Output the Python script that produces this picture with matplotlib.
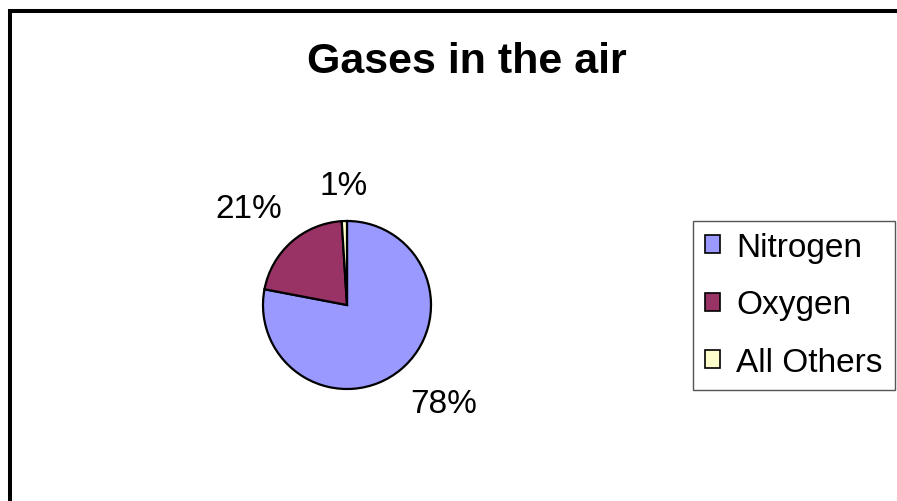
import matplotlib
matplotlib.use('Agg')
import matplotlib.pyplot as plt
from matplotlib.patches import Patch, Rectangle

plt.rcParams['font.family'] = ['Liberation Sans', 'DejaVu Sans']

gases = ['Nitrogen', 'Oxygen', 'All Others']
shares = [78, 21, 1]
colors = ['#9999FF', '#993366', '#FFFFCC']
title = 'Gases in the air'

# where each percent label sits, in pie-radius units
label_xy = [(1.15, -1.17), (-1.17, 1.15), (-0.04, 1.42)]

W, H = 897, 502
fig = plt.figure(figsize=(W/100, H/100), dpi=100)

# black chart frame (left and top edges show)
fig.patches.append(Rectangle((10/W, -0.1), 1.2, 1 - 12/H + 0.1,
                             transform=fig.transFigure, fill=False,
                             edgecolor='black', linewidth=2.9))

fig.text(467/W, 1 - 62/H, title, ha='center', va='center',
         fontsize=31, fontweight='bold')

# pie axes: centre (347, 306), radius 84 px
cx, cy, r = 347, 306, 84
ax = fig.add_axes([(cx - r)/W, 1 - (cy + r)/H, 2*r/W, 2*r/H])
wedges, _ = ax.pie(shares, colors=colors, startangle=90, counterclock=False,
                   wedgeprops=dict(edgecolor='black', linewidth=1.6))
ax.set_xlim(-1, 1)
ax.set_ylim(-1, 1)
ax.set_aspect('equal')
ax.axis('off')
for v, (x, y) in zip(shares, label_xy):
    ax.text(x, y, '%d%%' % v, ha='center', va='center', fontsize=24,
            clip_on=False)

handles = [Patch(facecolor=c, edgecolor='black', linewidth=1.2) for c in colors]
leg = fig.legend(handles, gases, loc='center left',
                 bbox_to_anchor=(693/W, 1 - 306/H), fontsize=24,
                 handlelength=0.45, handleheight=0.45, handletextpad=0.5,
                 labelspacing=0.79, borderpad=0.35, borderaxespad=0,
                 fancybox=False, framealpha=1)
leg.get_frame().set_edgecolor('#555555')
leg.get_frame().set_linewidth(1.0)

fig.savefig('out.png', dpi=100)
